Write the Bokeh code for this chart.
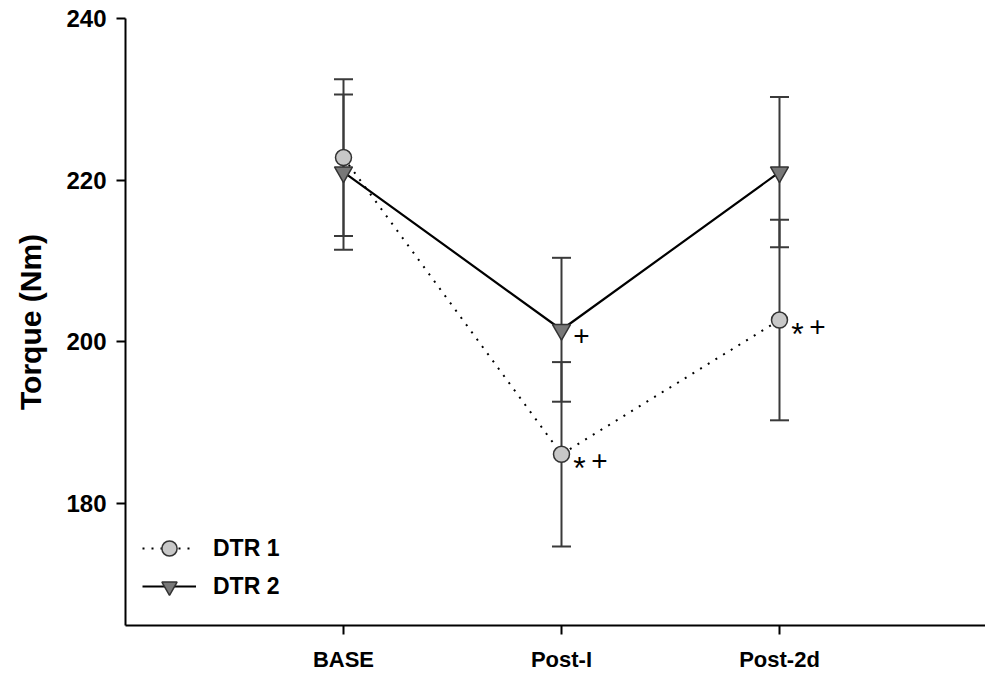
from bokeh.plotting import figure
from bokeh.models import (ColumnDataSource, Whisker, TeeHead, Legend, LegendItem,
                          FixedTicker, Range1d)
from bokeh.core.properties import value
from bokeh.embed import file_html
from bokeh.resources import INLINE

# ---- data ----
groups = ["BASE", "Post-I", "Post-2d"]
dtr1_mean = [222.8, 186.1, 202.7]
dtr1_err = [9.7, 11.4, 12.4]
dtr2_mean = [221.0, 201.5, 221.0]
dtr2_err = [9.6, 8.9, 9.3]
dtr1_marks = ["", "*+", "*+"]
dtr2_marks = ["", "+", ""]
y_ticks = [180, 200, 220, 240]

xs = list(range(1, len(groups) + 1))
FONT = "Liberation Sans"

p = figure(width=985, height=674, output_backend="svg", toolbar_location=None,
           x_range=Range1d(0, 3.945), y_range=Range1d(164.92, 240),
           min_border_left=125, min_border_right=0, min_border_top=18,
           min_border_bottom=46)
p.outline_line_color = None
p.xgrid.visible = False
p.ygrid.visible = False
p.background_fill_color = "white"
p.border_fill_color = "white"

def src(mean, err):
    return ColumnDataSource(dict(x=xs, y=mean,
                                 upper=[m + e for m, e in zip(mean, err)],
                                 lower=[m - e for m, e in zip(mean, err)]))

s1 = src(dtr1_mean, dtr1_err)
s2 = src(dtr2_mean, dtr2_err)

for s in (s1, s2):
    w = Whisker(source=s, base="x", upper="upper", lower="lower",
                line_color="#3a3a3a", line_width=2,
                upper_head=TeeHead(size=19, line_color="#3a3a3a", line_width=2),
                lower_head=TeeHead(size=19, line_color="#3a3a3a", line_width=2))
    p.add_layout(w)

l1 = p.line("x", "y", source=s1, line_color="black", line_width=2, line_dash="2 7")
l2 = p.line("x", "y", source=s2, line_color="black", line_width=2.2)
m1 = p.scatter("x", "y", source=s1, marker="circle", size=16,
               fill_color="#c8c8c8", line_color="#333333", line_width=1.5)
m2 = p.scatter("x", "y", source=s2, marker="inverted_triangle", size=18,
               fill_color="#787878", line_color="#333333", line_width=1.5)

# significance marks
def add_marks(marks, mean):
    for ch, size, dy in (("*", "32px", 14), ("+", "28px", 6)):
        tx, ty, xo = [], [], []
        for x, y, m in zip(xs, mean, marks):
            if ch in m:
                tx.append(x); ty.append(y)
                xo.append(18 + 20 * m.index(ch) if len(m) > 1 else 20)
        if tx:
            p.text(x=tx, y=ty, text=[ch] * len(tx), x_offset=xo, y_offset=dy,
                   text_font=value(FONT), text_font_size=size,
                   text_align="center", text_baseline="middle", text_color="black")

add_marks(dtr1_marks, dtr1_mean)
add_marks(dtr2_marks, dtr2_mean)

# axes
p.xaxis.ticker = FixedTicker(ticks=xs)
p.xaxis.major_label_overrides = {x: g for x, g in zip(xs, groups)}
p.yaxis.ticker = FixedTicker(ticks=y_ticks)
p.yaxis.axis_label = "Torque (Nm)"
for ax in (p.xaxis, p.yaxis):
    ax.axis_line_width = 2
    ax.axis_line_color = "black"
    ax.major_tick_line_width = 2
    ax.major_tick_line_color = "black"
    ax.major_tick_in = 0
    ax.major_tick_out = 9
    ax.minor_tick_line_color = None
    ax.major_label_text_font = FONT
    ax.major_label_text_font_style = "bold"
    ax.major_label_text_color = "black"
p.xaxis.major_label_text_font_size = "22px"
p.yaxis.major_label_text_font_size = "24px"
p.xaxis.major_label_standoff = 12
p.yaxis.major_label_standoff = 10
p.yaxis.axis_label_text_font = FONT
p.yaxis.axis_label_text_font_style = "bold"
p.yaxis.axis_label_text_font_size = "30px"
p.yaxis.axis_label_text_color = "black"
p.yaxis.axis_label_standoff = 16

legend = Legend(items=[LegendItem(label="DTR 1", renderers=[l1, m1]),
                       LegendItem(label="DTR 2", renderers=[l2, m2])],
                location=(17, 20), padding=0, margin=0,
                glyph_width=54, glyph_height=38, label_height=20,
                label_standoff=17, spacing=-10,
                border_line_color=None, background_fill_alpha=0,
                label_text_font=FONT, label_text_font_style="bold",
                label_text_font_size="23px", label_text_color="black")
p.add_layout(legend)

open("out.html", "w").write(file_html(p, INLINE))
